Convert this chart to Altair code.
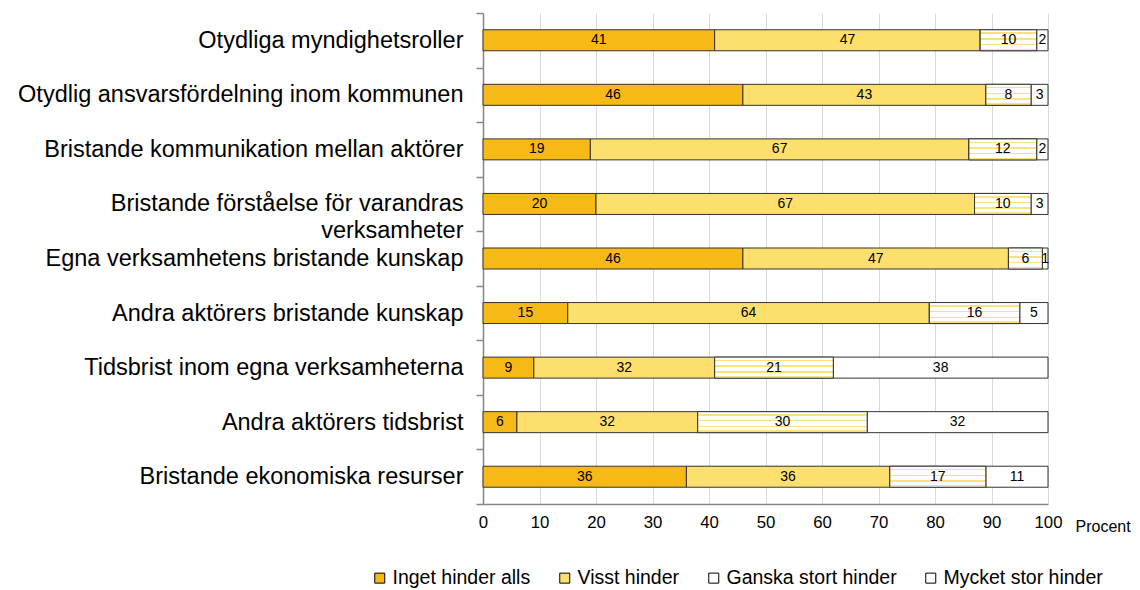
import altair as alt
import pandas as pd

categories = [
    "Otydliga myndighetsroller",
    "Otydlig ansvarsfördelning inom kommunen",
    "Bristande kommunikation mellan aktörer",
    "Bristande förståelse för varandras|verksamheter",
    "Egna verksamhetens bristande kunskap",
    "Andra aktörers bristande kunskap",
    "Tidsbrist inom egna verksamheterna",
    "Andra aktörers tidsbrist",
    "Bristande ekonomiska resurser",
]
series = ["Inget hinder alls", "Visst hinder", "Ganska stort hinder", "Mycket stor hinder"]
inget = [41, 46, 19, 20, 46, 15, 9, 6, 36]
visst = [47, 43, 67, 67, 47, 64, 32, 32, 36]
ganska = [10, 8, 12, 10, 6, 16, 21, 30, 17]
mycket = [2, 3, 2, 3, 1, 5, 38, 32, 11]
x_ticks = list(range(0, 101, 10))

colors = ["#F7B916", "#FCDF6C", "#FFFFFF", "#FFFFFF"]
stripe = "#FBE27C"

rows = []
for i, c in enumerate(categories):
    for j, (s, vals) in enumerate(zip(series, [inget, visst, ganska, mycket])):
        rows.append({"kategori": c, "serie": s, "ordning": j, "varde": vals[i]})
df = pd.DataFrame(rows)

# striped gradient for "Ganska stort hinder"
stops = [{"offset": 0, "color": "#FFFFFF"}]
for o in [0.16, 0.43, 0.70, 0.93]:
    h = 0.035
    stops += [
        {"offset": o - h, "color": "#FFFFFF"},
        {"offset": o - h, "color": stripe},
        {"offset": o + h, "color": stripe},
        {"offset": o + h, "color": "#FFFFFF"},
    ]
stops.append({"offset": 1, "color": "#FFFFFF"})
gradient = {"gradient": "linear", "x1": 0, "y1": 0, "x2": 0, "y2": 1, "stops": stops}

base = alt.Chart(df).transform_stack(
    stack="varde", groupby=["kategori"], as_=["x0", "x1"],
    sort=[alt.SortField("ordning", order="ascending")],
).transform_calculate(mid="(datum.x0 + datum.x1) / 2")

y_enc = alt.Y(
    "kategori:N", sort=categories,
    scale=alt.Scale(paddingInner=0, paddingOuter=0),
    axis=alt.Axis(
        title=None, labelExpr="split(datum.label, '|')", tickBand="extent",
        labelFontSize=23.5, labelLimit=0, labelPadding=13, tickSize=7,
        labelColor="#000000", labelLineHeight=27,
        domainColor="#868686", tickColor="#868686", domainWidth=1.5, tickWidth=1.5,
        grid=False,
    ),
)
x_enc = alt.X(
    "x0:Q", scale=alt.Scale(domain=[0, 100], nice=False),
    axis=alt.Axis(
        values=x_ticks, title="Procent", titleAnchor="start", titleAlign="left",
        titleX=592, titleY=22, titleBaseline="middle", titleFontWeight="normal",
        titleFontSize=16, titleColor="#000000", labelFontSize=16.8, labelColor="#000000",
        labelPadding=10, labelFlush=False, ticks=False, domainColor="#868686", domainWidth=1.5,
        grid=True, gridColor="#D9D9D9", gridWidth=1,
    ),
)

bars = base.mark_bar(size=21, stroke="#333333", strokeWidth=1).encode(
    x=x_enc, x2="x1:Q", y=y_enc,
    color=alt.Color(
        "serie:N", sort=series,
        scale=alt.Scale(domain=series, range=colors),
        legend=alt.Legend(
            title=None, orient="none", legendX=-113, legendY=555,
            direction="horizontal", columns=4, columnPadding=24,
            symbolType="square", symbolSize=100, symbolStrokeColor="#000000",
            symbolStrokeWidth=1, labelFontSize=19.5, labelColor="#000000",
            labelOffset=3, labelLimit=0,
        ),
    ),
)

stripes = base.transform_filter(alt.datum.serie == "Ganska stort hinder").mark_bar(
    size=21, stroke="#333333", strokeWidth=1, fill=gradient
).encode(x="x0:Q", x2="x1:Q", y=alt.Y("kategori:N", sort=categories))

labels = base.mark_text(fontSize=14, color="#000000").encode(
    x="mid:Q", y=alt.Y("kategori:N", sort=categories), text="varde:Q"
)

chart = alt.layer(bars, stripes, labels).properties(
    width=565, height=491,
    autosize=alt.AutoSizeParams(type="none"),
    padding={"left": 475, "top": 5, "right": 84, "bottom": 86},
).configure(font="Liberation Sans").configure_view(stroke=None)

chart.save("out.html", embed_options={"renderer": "svg", "actions": False})
